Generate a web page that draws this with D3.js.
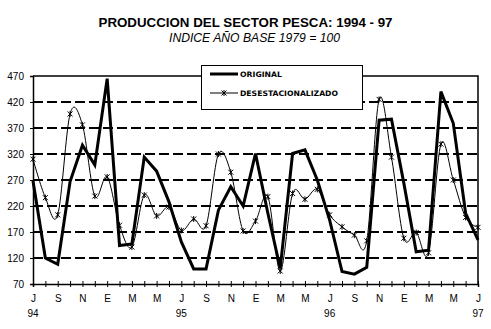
<!DOCTYPE html>
<html>
<head>
<meta charset="utf-8">
<script src="https://cdn.jsdelivr.net/npm/d3@7"></script>
<style>
  body { margin: 0; background: #fff; }
  svg { display: block; font-family: "Liberation Sans", Arial, sans-serif; }
</style>
</head>
<body>
<div id="chart"></div>
<script>
// data, julio 94 .. julio 97
const meses = ["J","A","S","O","N","D","E","F","M","A","M","J",
               "J","A","S","O","N","D","E","F","M","A","M","J",
               "J","A","S","O","N","D","E","F","M","A","M","J","J"];
const anios = [{i: 0, t: "94"}, {i: 12, t: "95"}, {i: 24, t: "96"}, {i: 36, t: "97"}];
const original = [268,120,108,267,337,299,465,144,147,314,287,228,151,99,99,212,257,220,321,
                  206,100,321,328,270,193,94,89,102,385,387,264,132,135,440,379,206,155];
const desest = [310,236,203,397,376,239,276,183,141,241,201,218,173,195,182,320,285,172,191,
                238,95,244,233,252,203,180,164,153,425,314,158,169,130,339,270,198,179];
const yTicks = [70,120,170,220,270,320,370,420,470];

const margin = {top: 76, right: 13, bottom: 45, left: 33},
width = 491 - margin.left - margin.right,
height = 329 - margin.top - margin.bottom;

const root = d3.select("div#chart")
    .append("svg")
    .attr("width", 491)
    .attr("height", 329);

// titles
root.append("text")
    .attr("x", 245.5).attr("y", 27)
    .attr("text-anchor", "middle")
    .attr("textLength", 294)
    .attr("lengthAdjust", "spacingAndGlyphs")
    .style("font-size", "13px").style("font-weight", "bold")
    .text("PRODUCCION DEL SECTOR PESCA: 1994 - 97");
root.append("text")
    .attr("x", 254.5).attr("y", 42)
    .attr("text-anchor", "middle")
    .attr("textLength", 171)
    .attr("lengthAdjust", "spacingAndGlyphs")
    .style("font-size", "12px").style("font-style", "italic")
    .text("INDICE AÑO BASE 1979 = 100");

const svg = root.append("g")
    .attr("transform", `translate(${margin.left},${margin.top})`);

const x = d3.scaleLinear()
    .domain([0, meses.length - 1])
    .range([0, width]);
const y = d3.scaleLinear()
    .domain([70, 470])
    .range([height, 0]);

// dashed gridlines
svg.selectAll("line.grid")
    .data(yTicks.filter(d => d > 70 && d < 470))
    .join("line")
    .attr("class", "grid")
    .attr("x1", 0).attr("x2", width)
    .attr("y1", d => y(d)).attr("y2", d => y(d))
    .attr("stroke", "#000")
    .attr("stroke-width", 2)
    .attr("stroke-dasharray", "10,4");

// frame top / right
svg.append("path")
    .attr("d", `M0,${y(470)}H${width}V${height}`)
    .attr("fill", "none")
    .attr("stroke", "#000")
    .attr("stroke-width", 1.5);

// y axis
const yAxis = svg.append("g")
    .call(d3.axisLeft(y).tickValues(yTicks).tickSize(3).tickPadding(6));
yAxis.select(".domain").attr("stroke", "#000").attr("stroke-width", 1.5);
yAxis.selectAll("text").style("font-size", "10px").style("font-family", "Liberation Sans, Arial, sans-serif");

// x axis, crossing ticks every month, label every other
const xAxis = svg.append("g")
    .attr("transform", `translate(0,${height})`)
    .call(d3.axisBottom(x)
        .tickValues(d3.range(meses.length))
        .tickSize(3)
        .tickFormat(i => i % 2 === 0 ? meses[i] : ""));
xAxis.select(".domain").attr("stroke", "#000").attr("stroke-width", 1.5);
xAxis.selectAll(".tick line").attr("y1", -3).attr("y2", 3);
xAxis.selectAll(".tick text")
    .attr("y", 18).attr("dy", 0)
    .style("font-size", "10px").style("font-family", "Liberation Sans, Arial, sans-serif");

svg.selectAll("text.anio")
    .data(anios)
    .join("text")
    .attr("class", "anio")
    .attr("x", d => x(d.i))
    .attr("y", height + 33)
    .attr("text-anchor", "middle")
    .style("font-size", "10px")
    .text(d => d.t);

// series
svg.append("path")
    .datum(desest)
    .attr("fill", "none")
    .attr("stroke", "#000")
    .attr("stroke-width", 1)
    .attr("d", d3.line()
        .x((d, i) => x(i))
        .y(d => y(d))
        .curve(d3.curveCardinal));

const star = "M-2.5,-2.5L2.5,2.5M-2.5,2.5L2.5,-2.5M0,-3V3";
svg.selectAll("path.mark")
    .data(desest)
    .join("path")
    .attr("class", "mark")
    .attr("transform", (d, i) => `translate(${x(i)},${y(d)})`)
    .attr("d", star)
    .attr("stroke", "#000")
    .attr("stroke-width", 1)
    .attr("fill", "none");

svg.append("path")
    .datum(original)
    .attr("fill", "none")
    .attr("stroke", "#000")
    .attr("stroke-width", 3)
    .attr("stroke-linejoin", "miter")
    .attr("d", d3.line()
        .x((d, i) => x(i))
        .y(d => y(d)));

// legend
const leg = root.append("g").attr("transform", "translate(201,65)");
leg.append("rect")
    .attr("x", 0.5).attr("y", 0.5)
    .attr("width", 161).attr("height", 44)
    .attr("fill", "#fff")
    .attr("stroke", "#000");
leg.append("line")
    .attr("x1", 9).attr("x2", 37).attr("y1", 9).attr("y2", 9)
    .attr("stroke", "#000").attr("stroke-width", 3);
leg.append("line")
    .attr("x1", 9).attr("x2", 37).attr("y1", 28).attr("y2", 28)
    .attr("stroke", "#000").attr("stroke-width", 1);
leg.append("path")
    .attr("transform", "translate(23,28)")
    .attr("d", star)
    .attr("stroke", "#000").attr("fill", "none");
leg.selectAll("text")
    .data(["ORIGINAL", "DESESTACIONALIZADO"])
    .join("text")
    .attr("x", 39)
    .attr("y", (d, i) => i === 0 ? 12 : 31)
    .attr("textLength", (d, i) => i === 0 ? 42 : 98)
    .attr("lengthAdjust", "spacingAndGlyphs")
    .style("font-family", "DejaVu Sans, sans-serif")
    .style("font-size", "7.5px")
    .style("font-weight", "bold")
    .text(d => d);
</script>
</body>
</html>
